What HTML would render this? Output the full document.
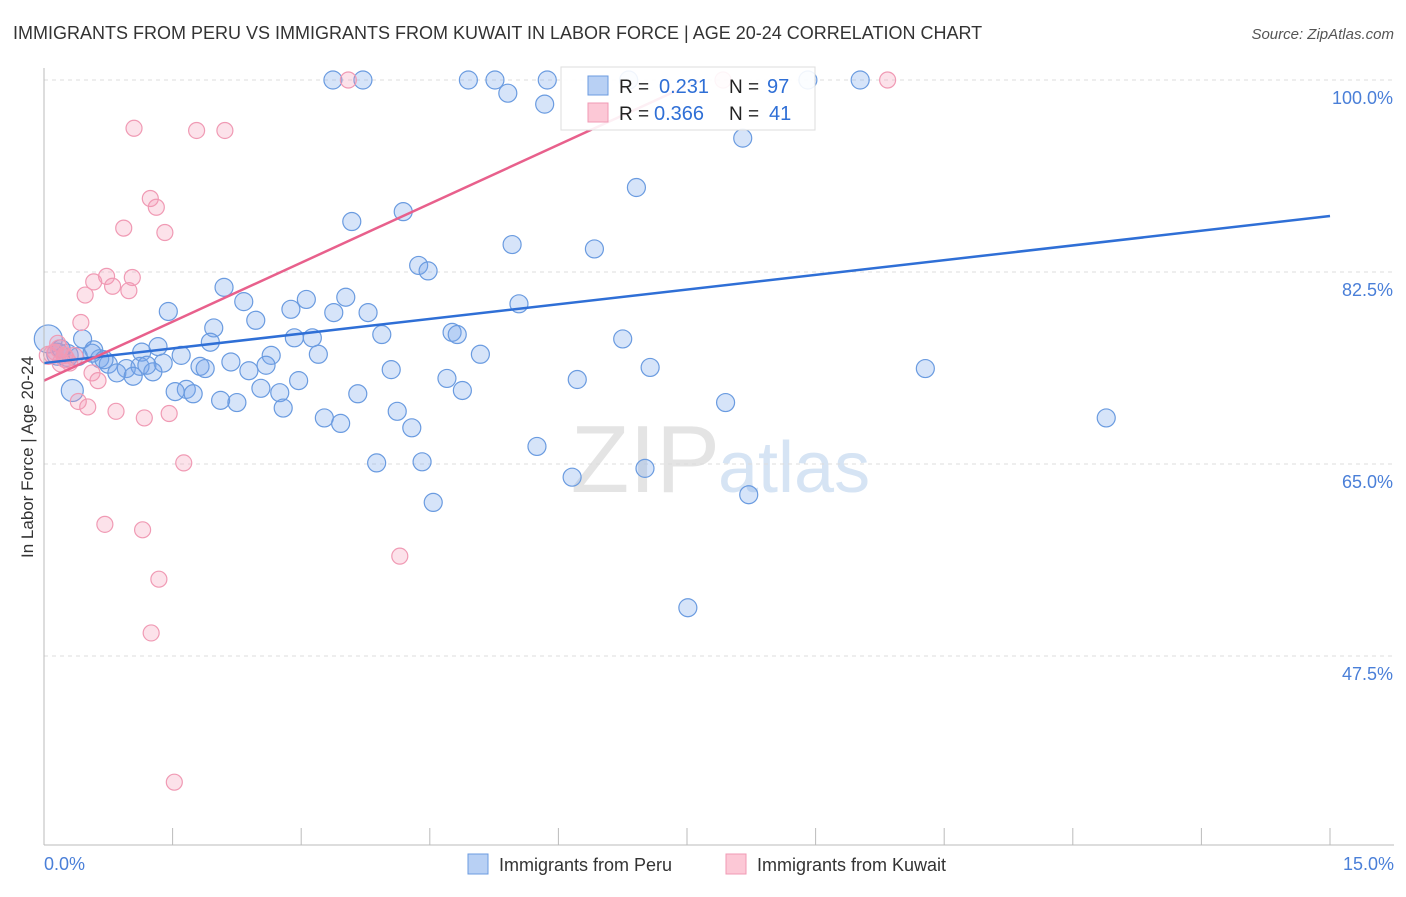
<!DOCTYPE html>
<html><head><meta charset="utf-8"><style>
body{margin:0;background:#fff;font-family:"Liberation Sans",sans-serif;}
svg text{font-family:"Liberation Sans",sans-serif;}
</style></head><body>
<svg id="chart" width="1406" height="892" xmlns="http://www.w3.org/2000/svg">
<text x="13" y="39" font-size="18" fill="#333">IMMIGRANTS FROM PERU VS IMMIGRANTS FROM KUWAIT IN LABOR FORCE | AGE 20-24 CORRELATION CHART</text>
<text x="1394" y="39" font-size="15" fill="#555" text-anchor="end" font-style="italic">Source: ZipAtlas.com</text>
<text transform="translate(33,457) rotate(-90)" font-size="17" fill="#333" text-anchor="middle">In Labor Force | Age 20-24</text>
<text x="720" y="492" font-size="96" fill="#e4e4e4" text-anchor="end" font-family="Liberation Serif">ZIP</text>
<text x="718" y="492" font-size="72" fill="#d6e4f4">atlas</text>
<g id="grid"></g><g id="pts"></g><g id="trend"></g>
<line x1="44" y1="68" x2="44" y2="845" stroke="#bbb"/>
<line x1="44" y1="845" x2="1394" y2="845" stroke="#bbb"/>
<text x="44" y="870" font-size="18" fill="#4a7fd8">0.0%</text>
<text x="1394" y="870" font-size="18" fill="#4a7fd8" text-anchor="end">15.0%</text>
<g>
<rect x="561" y="67" width="254" height="63" fill="#fff" fill-opacity="0.9" stroke="#ddd"/>
<rect x="588" y="76" width="20" height="19" fill="#b8d0f4" stroke="#6b9be0"/>
<rect x="588" y="103" width="20" height="19" fill="#fcc8d6" stroke="#f09ab4"/>
<text x="619" y="93" font-size="19" fill="#222">R = </text><text x="659" y="93" font-size="20" fill="#2f6fd6">0.231</text>
<text x="729" y="93" font-size="19" fill="#222">N = </text><text x="767" y="93" font-size="20" fill="#2f6fd6">97</text>
<text x="619" y="120" font-size="19" fill="#222">R = </text><text x="654" y="120" font-size="20" fill="#2f6fd6">0.366</text>
<text x="729" y="120" font-size="19" fill="#222">N = </text><text x="769" y="120" font-size="20" fill="#2f6fd6">41</text>
</g>
<g>
<rect x="468" y="854" width="20" height="20" fill="#b8d0f4" stroke="#6b9be0"/>
<text x="499" y="871" font-size="18" fill="#333">Immigrants from Peru</text>
<rect x="726" y="854" width="20" height="20" fill="#fcc8d6" stroke="#f09ab4"/>
<text x="757" y="871" font-size="18" fill="#333">Immigrants from Kuwait</text>
</g>
</svg>
<script>
const yTicks=[100,82.5,65,47.5];
const yTickLabels=["100.0%","82.5%","65.0%","47.5%"];
const xTicks=[0,1.5,3,4.5,6,7.5,9,10.5,12,13.5,15];
const peruX=[3.37,3.72,4.95,5.26,5.87,6.82,8.91,9.52,5.41,5.84,8.15,6.91,4.19,3.59,5.46,6.42,4.37,4.48,2.10,1.45,2.33,3.06,2.88,3.52,3.38,3.78,5.54,2.47,1.98,3.94,4.76,4.82,2.92,3.13,6.75,0.05,0.45,1.94,1.33,0.58,1.14,1.60,2.65,3.20,5.09,0.27,0.65,0.75,1.39,2.18,1.82,1.88,2.59,0.96,1.12,7.07,10.28,2.39,4.05,0.85,1.27,1.04,4.70,6.22,2.97,0.33,1.66,1.53,2.53,1.74,2.75,4.88,3.66,2.06,2.25,7.95,2.79,4.12,3.27,3.46,12.39,4.29,5.75,3.88,4.41,7.01,6.16,4.54,8.22,7.51,0.16,0.56,0.20,0.40,0.70,1.20];
const peruY=[100,100,100,100,100,100,100,100,98.8,97.8,94.7,90.2,88.0,87.1,85.0,84.6,83.1,82.6,81.1,78.9,79.8,80.0,79.1,80.2,78.8,78.8,79.6,78.1,77.4,76.8,77.0,76.8,76.5,76.5,76.4,76.4,76.4,76.1,75.7,75.4,75.2,74.9,74.9,75.0,75.0,74.9,74.6,74.1,74.2,74.3,73.9,73.7,74.0,73.7,73.9,73.8,73.7,73.5,73.6,73.3,73.4,73.0,72.8,72.7,72.6,71.7,71.8,71.6,71.9,71.4,71.5,71.7,71.4,70.8,70.6,70.6,70.1,69.8,69.2,68.7,69.2,68.3,66.6,65.1,65.2,64.6,63.8,61.5,62.2,51.9,75.0,75.1,75.5,74.8,74.5,74.0];
const peruR=[9,9,9,9,9,9,9,9,9,9,9,9,9,9,9,9,9,9,9,9,9,9,9,9,9,9,9,9,9,9,9,9,9,9,9,14,9,9,9,9,9,9,9,9,9,11,9,9,9,9,9,9,9,9,9,9,9,9,9,9,9,9,9,9,9,11,9,9,9,9,9,9,9,9,9,9,9,9,9,9,9,9,9,9,9,9,9,9,9,9,11,9,9,9,9,9];
const kuwaitX=[3.55,7.92,9.84,1.05,1.78,2.11,1.24,1.31,0.93,1.41,0.73,1.03,0.58,0.80,0.99,0.48,0.43,0.16,0.13,0.24,0.30,0.56,0.63,0.40,0.51,0.84,1.17,1.46,1.63,0.71,1.15,4.15,1.34,1.25,1.52,0.05,0.18,0.25,0.10,0.35,0.20];
const kuwaitY=[100,100,100,95.6,95.4,95.4,89.2,88.4,86.5,86.1,82.1,82.0,81.6,81.2,80.8,80.4,77.9,76.0,75.2,74.9,74.2,73.3,72.6,70.7,70.2,69.8,69.2,69.6,65.1,59.5,59.0,56.6,54.5,49.6,36.0,74.9,75.5,74.6,75.0,74.8,74.2];
const peruTrend=[74.2,87.6];
const kuwaitTrend=[72.6,99.0,100];
const kuwaitTrendX=[0,7.37,7.65];
const NS="http://www.w3.org/2000/svg";
function sx(v){return 44+v/15*1286;}
function sy(v){return 80+(100-v)*192/17.5;}
function mk(t,a,p){const e=document.createElementNS(NS,t);for(const k in a)e.setAttribute(k,a[k]);p.appendChild(e);return e;}
const grid=document.getElementById('grid');
yTicks.forEach((t,i)=>{
 const l=mk('line',{x1:44,x2:1394,y1:sy(t),y2:sy(t),stroke:'#ddd','stroke-dasharray':'4,4'},grid);
 
 
 const tx=mk('text',{x:1393,y:sy(t)+24,'font-size':18,fill:'#4a7fd8','text-anchor':'end'},grid);
 tx.textContent=yTickLabels[i];
 
 
});
xTicks.forEach(t=>{
 const l=mk('line',{x1:sx(t),x2:sx(t),y1:828,y2:845,stroke:'#bbb'},grid);
 
 
});
const pts=document.getElementById('pts');
peruX.forEach((x,i)=>{
 const c=mk('circle',{cx:sx(x),cy:sy(peruY[i]),r:peruR[i]||9,fill:'rgba(120,165,235,0.3)',stroke:'#6a9be0','stroke-width':1.2},pts);
 
 
});
kuwaitX.forEach((x,i)=>{
 const c=mk('circle',{cx:sx(x),cy:sy(kuwaitY[i]),r:i>=35?9:8,fill:'rgba(245,150,180,0.28)',stroke:'#f09ab4','stroke-width':1.2},pts);
 
 
});
const tr=document.getElementById('trend');
const bl=mk('line',{x1:sx(0),y1:sy(peruTrend[0]),x2:sx(15),y2:sy(peruTrend[1]),stroke:'#2f6fd6','stroke-width':2.5},tr);


const pl=mk('line',{x1:sx(kuwaitTrendX[0]),y1:sy(kuwaitTrend[0]),x2:sx(kuwaitTrendX[1]),y2:sy(kuwaitTrend[1]),stroke:'#e8608c','stroke-width':2.5},tr);


const pd=mk('line',{x1:sx(kuwaitTrendX[1]),y1:sy(kuwaitTrend[1]),x2:sx(kuwaitTrendX[2]),y2:sy(kuwaitTrend[2]),stroke:'#e8608c','stroke-width':1.5,'stroke-dasharray':'4,3'},tr);


</script>
</body></html>
